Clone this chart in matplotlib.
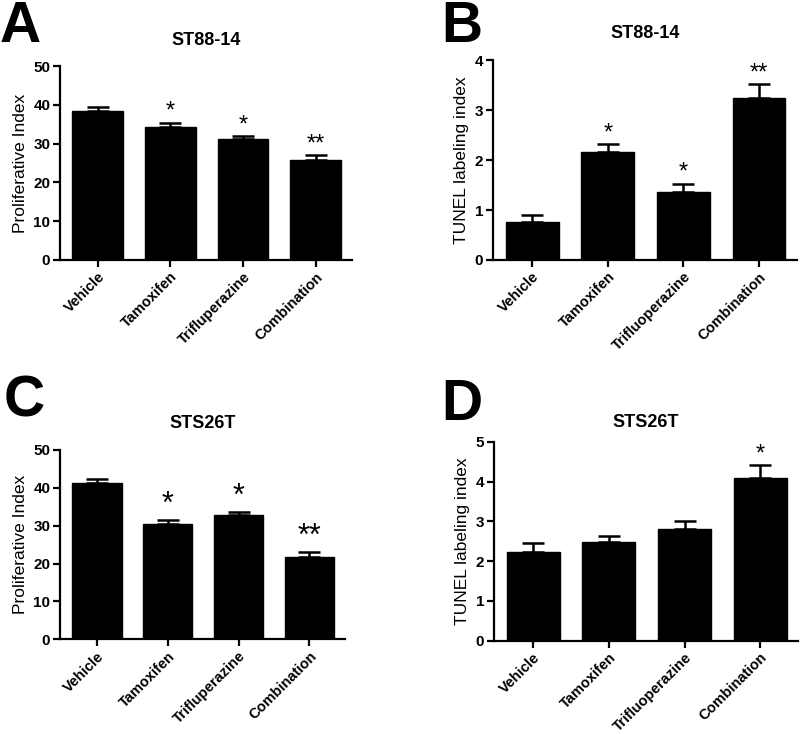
import matplotlib.pyplot as plt

plt.rcParams['font.family'] = ['Liberation Sans', 'DejaVu Sans']

# data
groups_a = ['Vehicle', 'Tamoxifen', 'Trifluperazine', 'Combination']
groups_b = ['Vehicle', 'Tamoxifen', 'Trifluoperazine', 'Combination']

prolif_st88 = [38.4, 34.3, 31.2, 25.9]
prolif_st88_err = [1.1, 1.1, 0.7, 1.1]
tunel_st88 = [0.77, 2.17, 1.37, 3.25]
tunel_st88_err = [0.13, 0.15, 0.16, 0.27]

prolif_sts = [41.4, 30.5, 32.9, 21.8]
prolif_sts_err = [0.9, 0.9, 0.7, 1.2]
tunel_sts = [2.24, 2.49, 2.81, 4.10]
tunel_sts_err = [0.21, 0.15, 0.20, 0.31]

stars_a = ['', '*', '*', '**']
stars_b = ['', '*', '*', '**']
stars_c = ['', '*', '*', '**']
stars_d = ['', '', '', '*']

fig = plt.figure(figsize=(8, 7.34), dpi=100)

panels = [
    # rect, letter, letter pos, title, title pad, labels, vals, errs, ylabel, ylim, yticks, stars, star size
    ([0.075, 0.6458, 0.365, 0.264], 'A', (0.0, 0.943), 'ST88-14', 15, groups_a,
     prolif_st88, prolif_st88_err, 'Proliferative Index', 50, range(0, 51, 10), stars_a, 17),
    ([0.616, 0.6458, 0.380, 0.272], 'B', (0.552, 0.943), 'ST88-14', 16, groups_b,
     tunel_st88, tunel_st88_err, 'TUNEL labeling index', 4, range(0, 5), stars_b, 17),
    ([0.075, 0.129, 0.356, 0.258], 'C', (0.004, 0.432), 'STS26T', 16, groups_a,
     prolif_sts, prolif_sts_err, 'Proliferative Index', 50, range(0, 51, 10), stars_c, 22),
    ([0.6175, 0.127, 0.380, 0.271], 'D', (0.552, 0.428), 'STS26T', 11, groups_b,
     tunel_sts, tunel_sts_err, 'TUNEL labeling index', 5, range(0, 6), stars_d, 17),
]

for rect, letter, lpos, title, tpad, labels, vals, errs, ylabel, ytop, yticks, stars, ssize in panels:
    ax = fig.add_axes(rect)
    x = range(len(vals))
    ax.bar(x, vals, width=0.7, color='black', edgecolor='black')
    ax.errorbar(x, vals, yerr=[[0] * len(errs), errs], fmt='none', ecolor='black',
                elinewidth=1.8, capsize=8, capthick=1.8)
    for i, s in enumerate(stars):
        if s:
            ax.annotate(s, xy=(i, vals[i] + errs[i]), xytext=(0, 0), textcoords='offset points',
                        ha='center', va='bottom', fontsize=ssize)
    ax.set_xlim(-0.52, 3.5)
    ax.set_ylim(0, ytop)
    ax.set_yticks(list(yticks))
    ax.set_xticks(list(x))
    ax.set_xticklabels(labels, rotation=45, ha='right', rotation_mode='anchor',
                       fontsize=10.5, fontweight='bold')
    for t in ax.get_yticklabels():
        t.set_fontsize(11)
        t.set_fontweight('bold')
    ax.set_ylabel(ylabel, fontsize=12.5, labelpad=4)
    ax.set_title(title, fontsize=13, fontweight='bold', pad=tpad)
    for side in ['top', 'right']:
        ax.spines[side].set_visible(False)
    for side in ['left', 'bottom']:
        ax.spines[side].set_linewidth(1.6)
    ax.tick_params(width=1.6, length=5, pad=2)
    fig.text(lpos[0], lpos[1], letter, fontsize=41, fontweight='bold', ha='left', va='baseline')

fig.savefig('out.png', dpi=100)
